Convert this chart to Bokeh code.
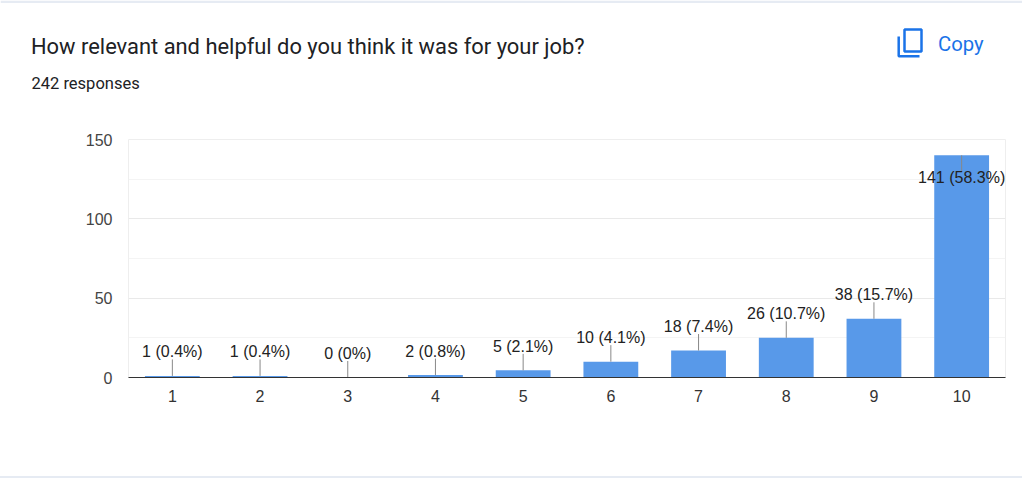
from bokeh.plotting import figure
from bokeh.layouts import column
from bokeh.models import ColumnDataSource, Div, FixedTicker, Range1d
from bokeh.core.properties import value
from bokeh.embed import file_html
from bokeh.resources import INLINE

categories = ["1", "2", "3", "4", "5", "6", "7", "8", "9", "10"]
counts = [1, 1, 0, 2, 5, 10, 18, 26, 38, 141]
percents = ["0.4%", "0.4%", "0%", "0.8%", "2.1%", "4.1%", "7.4%", "10.7%", "15.7%", "58.3%"]
bar_heights = [1, 1, 0, 1.5, 4.5, 10, 17, 25, 37, 140]
title_text = "How relevant and helpful do you think it was for your job?"
subtitle_text = "242 responses"
copy_text = "Copy"
y_ticks = [0, 50, 100, 150]
y_minor = [25, 75, 125]

W, H = 1022, 478
HEAD_H, FOOT_H = 127, 2
BLUE = "#1a73e8"
BAND = "#e6ebf3"
STEM = 10.4
labels = [f"{c} ({q})" for c, q in zip(counts, percents)]
inside = [c > 100 for c in counts]
stem_end = [h - STEM if i else h + STEM for h, i in zip(bar_heights, inside)]
src = ColumnDataSource(dict(
    x=categories, h=bar_heights, e=stem_end, t=labels,
    off=[-24 if not i else 22 for i in inside],
))

# header strip: a pixel-scaled figure holding the question, the count and the Copy button
head = figure(width=W, height=HEAD_H, x_range=Range1d(0, W), y_range=Range1d(HEAD_H, 0),
              output_backend="svg", toolbar_location=None, min_border=0,
              x_axis_type=None, y_axis_type=None, frame_align=False)
head.outline_line_color = None
head.grid.visible = False
head.quad(left=[0], right=[W], top=[0], bottom=[2.5], fill_color=BAND, line_color=None)
head.text(x=[30.5], y=[46], text=[title_text], text_baseline="middle",
          text_font=value("Roboto"), text_font_size="21.9px", text_color="#202124")
head.text(x=[31], y=[83], text=[subtitle_text], text_baseline="middle",
          text_font=value("Roboto"), text_font_size="16.5px", text_color="#202124")
head.text(x=[937.5], y=[43], text=[copy_text], text_baseline="middle",
          text_font=value("Roboto"), text_font_size="20.3px", text_color=BLUE)
head.quad(left=[904], right=[921], top=[29], bottom=[51], fill_color=None, line_color=BLUE, line_width=2.5)
head.line(x=[898.2, 898.2, 919], y=[36, 55.8, 55.8], line_color=BLUE, line_width=2.5)

p = figure(width=W, height=H - HEAD_H - FOOT_H, x_range=categories, y_range=Range1d(0, 150),
           output_backend="svg", toolbar_location=None, frame_align=False,
           min_border_left=128, min_border_right=17, min_border_top=12, min_border_bottom=99)
p.outline_line_color = "#eeeeee"
p.background_fill_color = "white"
p.border_fill_color = "white"

p.xgrid.visible = False
p.ygrid.grid_line_color = "#e9e9e9"
p.ygrid.minor_grid_line_color = "#f4f4f4"
p.yaxis.ticker = FixedTicker(ticks=y_ticks, minor_ticks=y_minor)
p.yaxis.axis_line_color = None
p.yaxis.major_tick_line_color = None
p.yaxis.minor_tick_line_color = None
p.yaxis.major_label_text_font = "Liberation Sans"
p.yaxis.major_label_text_font_size = "16px"
p.yaxis.major_label_text_color = "#444444"
p.yaxis.major_label_standoff = 10
p.xaxis.axis_line_color = "#333333"
p.xaxis.axis_line_width = 1
p.xaxis.major_tick_line_color = None
p.xaxis.minor_tick_line_color = None
p.xaxis.major_label_text_font = "Liberation Sans"
p.xaxis.major_label_text_font_size = "16px"
p.xaxis.major_label_text_color = "#333333"
p.xaxis.major_label_standoff = 6

p.vbar(x="x", top="h", width=0.625, source=src, fill_color="#5899e9", line_color=None)
p.segment(x0="x", y0="h", x1="x", y1="e", source=src, line_color="#888888", line_width=1)
p.text(x="x", y="h", text="t", source=src, y_offset="off", text_align="center", text_baseline="middle",
       text_font=value("Liberation Sans"), text_font_size="16px", text_color="#222222")

foot = Div(text="", width=W, height=FOOT_H, margin=0, styles={"background-color": BAND})

page = column(head, p, foot, spacing=0)
open("out.html", "w").write(file_html(page, INLINE))
